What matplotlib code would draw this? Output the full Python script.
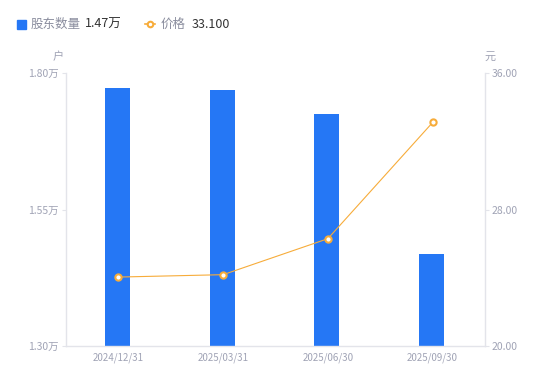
import matplotlib
matplotlib.use('Agg')
import matplotlib.pyplot as plt
from matplotlib.lines import Line2D
from matplotlib.patches import Rectangle

plt.rcParams['font.family'] = ['Noto Sans CJK SC', 'DejaVu Sans']

# data
dates = ['2024/12/31', '2025/03/31', '2025/06/30', '2025/09/30']
holders = [1.7725, 1.769, 1.7245, 1.4685]   # 万户
prices = [24.04, 24.18, 26.29, 33.10]
left_ticks = [1.30, 1.55, 1.80]
right_ticks = [20.00, 28.00, 36.00]

BLUE = '#2577f5'
ORANGE = '#f7ac3a'
AXIS = '#e3e4ea'
LABEL = '#a0a3b5'

W, H = 550, 381
fig = plt.figure(figsize=(W / 100, H / 100), dpi=100)
ax = fig.add_axes([66 / W, 1 - 346 / H, (485 - 66) / W, (346 - 73) / H])
ax2 = ax.twinx()

x = list(range(len(dates)))
ax.bar([i - 0.01 for i in x], holders, width=0.24, color=BLUE, zorder=2)
ax.set_ylim(1.30, 1.80)
ax.set_xlim(-0.5, len(dates) - 0.5)
ax.set_yticks(left_ticks)
ax.set_yticklabels([f'{v:.2f}万' for v in left_ticks])
ax.set_xticks(x)
ax.set_xticklabels(dates)

ax2.plot(x, prices, color=ORANGE, lw=0.8, marker='o', ms=4.5, mfc='white',
         mec=ORANGE, mew=1.5, zorder=3)
ax2.set_ylim(20, 36)
ax2.set_yticks(right_ticks)
ax2.set_yticklabels([f'{v:.2f}' for v in right_ticks])

for a in (ax, ax2):
    for s in a.spines.values():
        s.set_visible(False)
ax.spines['left'].set_visible(True)
ax.spines['bottom'].set_visible(True)
ax2.spines['right'].set_visible(True)
for s in (ax.spines['left'], ax.spines['bottom'], ax2.spines['right']):
    s.set_color(AXIS)
    s.set_linewidth(1)

ax.tick_params(axis='y', colors=AXIS, labelcolor=LABEL, labelsize=7.5, length=3, pad=2)
ax.tick_params(axis='x', length=0, labelcolor=LABEL, labelsize=7, pad=5)
ax2.tick_params(axis='y', colors=AXIS, labelcolor=LABEL, labelsize=7.5, length=3, pad=2)

# unit labels
fig.text(58 / W, 1 - 57 / H, '户', color=LABEL, fontsize=8, ha='center', va='center')
fig.text(490 / W, 1 - 57 / H, '元', color=LABEL, fontsize=8, ha='center', va='center')

# legend
fig.patches.append(Rectangle((17 / W, 1 - 29 / H), 9 / W, 9 / H, transform=fig.transFigure,
                             color=BLUE, figure=fig))
fig.text(31 / W, 1 - 24 / H, '股东数量', color='#8a8d9e', fontsize=9, va='center')
fig.text(85 / W, 1 - 24 / H, '1.47万', color='#333333', fontsize=9, va='center')
fig.lines.append(Line2D([145 / W, 155 / W], [1 - 24 / H, 1 - 24 / H], transform=fig.transFigure,
                        color=ORANGE, lw=1.2))
fig.lines.append(Line2D([150 / W], [1 - 24 / H], transform=fig.transFigure, marker='o', ms=4,
                        mfc='white', mec=ORANGE, mew=1.5))
fig.text(161 / W, 1 - 24 / H, '价格', color='#8a8d9e', fontsize=9, va='center')
fig.text(192 / W, 1 - 24 / H, '33.100', color='#333333', fontsize=9, va='center')

fig.savefig('out.png', dpi=100)
